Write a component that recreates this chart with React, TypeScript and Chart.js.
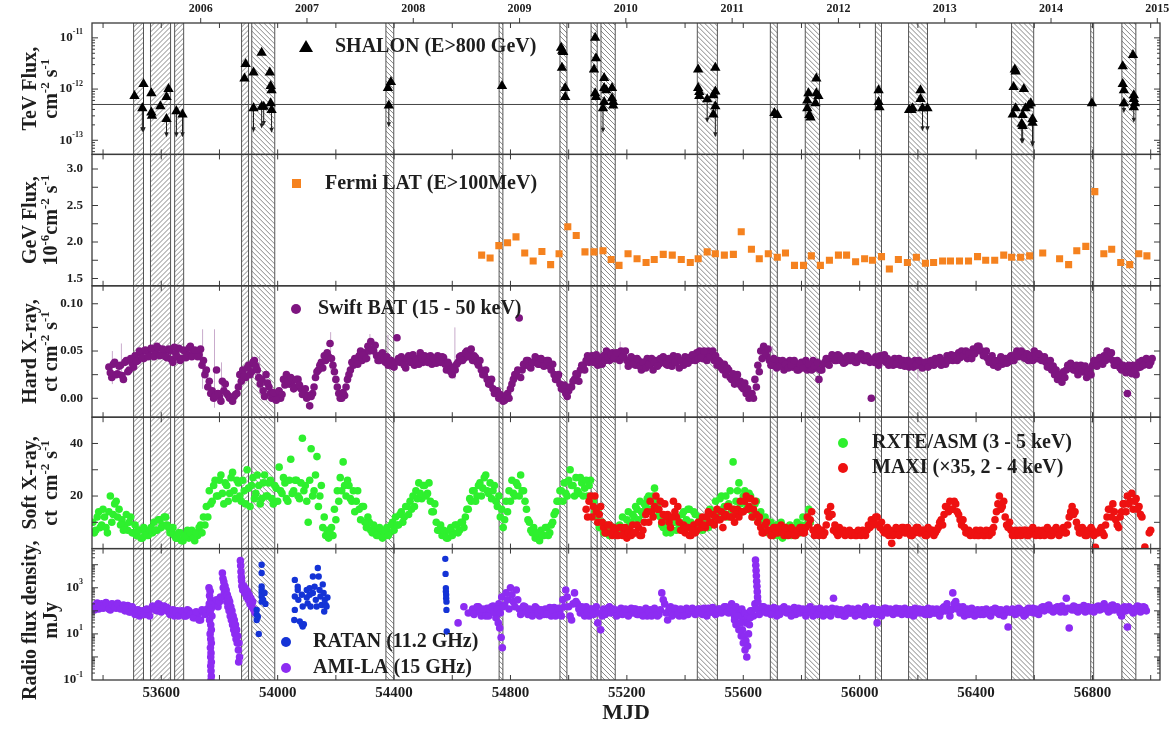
import React, { useEffect, useRef } from 'react';
import { Chart, registerables } from 'chart.js';

Chart.register(...registerables);

const FONT = '"Liberation Serif", "Times New Roman", serif';
const INK = '#1e1e1e';

// ---------------- axes ----------------
const X_MIN = 53362;
const X_MAX = 57032;
const mjdToYear = (m: number) => 2000 + (m - 51544) / 365.25;

const mjdTicks = [53600, 54000, 54400, 54800, 55200, 55600, 56000, 56400, 56800];
const yearTicks = [2006, 2007, 2008, 2009, 2010, 2011, 2012, 2013, 2014, 2015];
const tevTicks = [1e-13, 1e-12, 1e-11];
const gevTicks = [1.5, 2.0, 2.5, 3.0];
const hardTicks = [0, 0.05, 0.1];
const softTicks = [20, 40];
const radioTicks = [0.1, 10, 1000];
const TEV_THRESHOLD = 5e-13;

// ---------------- SHALON observation windows (hatched) ----------------
const bandStart = [53505, 53563, 53646, 53876, 53911, 54372, 54761, 54970, 55077, 55111, 55442, 55693, 55813, 56054, 56168, 56522, 56794, 56901];
const bandEnd = [53539, 53632, 53677, 53900, 53990, 54399, 54774, 54994, 55098, 55160, 55511, 55717, 55862, 56075, 56233, 56598, 56804, 56949];
const bandSlash = [1, 1, 1, 1, 0, 0, 0, 0, 0, 0, 0, 0, 0, 0, 0, 0, 0, 0];

// ---------------- SHALON TeV (units of 1e-13 cm^-2 s^-1) ----------------
const shalonMjd = [53508, 53539, 53535, 53566, 53566, 53568, 53597, 53618, 53625, 53618, 53652, 53673,
  53890, 53886, 53917, 53945, 53973, 53976, 53979, 53917, 53945, 53952, 53976, 53979,
  54379, 54389, 54382, 54771,
  54974, 54978, 54981, 54977, 54988, 54988,
  55091, 55094, 55087, 55091, 55094, 55122, 55122, 55129, 55122, 55118, 55149, 55149, 55153, 55153,
  55445, 55445, 55449, 55449, 55476, 55504, 55504, 55497, 55504, 55497, 55707, 55717,
  55824, 55820, 55820, 55827, 55831, 55851, 55851, 55858, 55848,
  56065, 56065, 56068, 56170, 56178, 56182, 56209, 56209, 56216, 56233,
  56533, 56536, 56529, 56564, 56536, 56526, 56560, 56557, 56560, 56570, 56581, 56588, 56594, 56594,
  56798, 56904, 56904, 56908, 56908, 56939, 56942, 56942, 56946, 56942];
const shalonFlux = [7.3, 12.5, 4.2, 8.3, 3.5, 3.0, 4.6, 7.0, 10, 2.6, 3.7, 3.2,
  31, 16, 21, 51, 21, 11.5, 9.5, 4.2, 4.5, 4.5, 5.3, 3.9,
  10.5, 13.7, 4.8, 11.5,
  64, 56, 53, 26, 10.5, 7.0,
  100, 40, 24, 8.3, 7.0, 16.5, 10.5, 9.5, 5.6, 4.2, 10.5, 6.6, 5.6, 4.8,
  24, 10.5, 8.8, 7.3, 6.3, 26, 9.0, 7.6, 4.6, 3.2, 3.4, 3.1,
  8.3, 6.0, 4.2, 3.1, 2.8, 16, 8.3, 7.3, 5.3,
  9.5, 5.6, 4.4, 3.9, 3.9, 4.2, 9.5, 6.4, 4.2, 4.2,
  24, 22, 11, 10, 4.2, 3.2, 3.1, 2.1, 1.9, 4.2, 4.8, 5.3, 2.6, 2.2,
  5.3, 28, 12.5, 9.5, 5.3, 46, 7.6, 6.4, 5.3, 4.4];
const shalonLimit = [0, 1.44, 1.44, 0, 0, 0, 0, 0, 0, 1.15, 1.15, 1.15,
  0, 0, 0, 0, 0, 0, 0, 1.44, 1.7, 1.9, 0, 1.4,
  0, 0, 1.8, 0,
  0, 0, 0, 0, 0, 0,
  0, 0, 0, 0, 0, 0, 0, 0, 0, 1.4, 0, 0, 0, 0,
  0, 0, 0, 0, 2.2, 0, 0, 0, 1.15, 0, 0, 0,
  0, 0, 0, 0, 0, 0, 0, 0, 0,
  0, 0, 0, 0, 0, 0, 0, 0, 1.5, 1.5,
  0, 0, 0, 0, 0, 0, 0, 0.87, 0.87, 0, 0, 0, 0.76, 0.76,
  0, 0, 0, 0, 3.4, 0, 0, 0, 0, 2.2];

// ---------------- Fermi LAT (1e-6 cm^-2 s^-1) ----------------
const fermiMjd = [54701, 54730, 54760, 54790, 54819, 54849, 54878, 54908, 54938, 54967, 54997, 55026,
  55056, 55087, 55118, 55146, 55173, 55204, 55235, 55266, 55294, 55325, 55356, 55387, 55418, 55445, 55476, 55504, 55535, 55566,
  55593, 55628, 55655, 55686, 55717, 55745, 55776, 55807, 55834, 55865, 55896, 55927, 55955, 55986, 56017, 56044, 56075, 56102,
  56133, 56164, 56195, 56226, 56254, 56285, 56312, 56343, 56374, 56405, 56433, 56464, 56495, 56522, 56553, 56584, 56629, 56687,
  56718, 56746, 56777, 56808, 56839, 56866, 56897, 56928, 56959, 56987];
const fermiFlux = [1.82, 1.78, 1.95, 1.99, 2.07, 1.85, 1.74, 1.87, 1.69, 1.84, 2.21, 2.09,
  1.865, 1.865, 1.88, 1.76, 1.68, 1.84, 1.77, 1.72, 1.76, 1.83, 1.82, 1.76, 1.72, 1.77, 1.865, 1.84, 1.82, 1.83,
  2.14, 1.90, 1.77, 1.84, 1.79, 1.85, 1.68, 1.68, 1.81, 1.68, 1.75, 1.82, 1.82, 1.73, 1.77, 1.75, 1.80, 1.63,
  1.76, 1.72, 1.79, 1.71, 1.72, 1.74, 1.74, 1.74, 1.74, 1.80, 1.75, 1.75, 1.82, 1.79, 1.79, 1.81, 1.85, 1.77,
  1.69, 1.88, 1.94, 2.69, 1.84, 1.90, 1.72, 1.69, 1.84, 1.81];

// ---------------- Swift BAT (two interleaved 10-day samplings, 1e-3 ct cm^-2 s^-1) ----------------
const BAT_START = 53420;
const BAT_STEP = 10;
const batMilli = [
  33, 22, 38, 26, 35, 20, 40, 30, 37, 45, 40, 47, 42, 50, 45, 52, 47, 53, 46, 50,
  43, 50, 38, 47, 53, 42, 50, 46, 55, 48, 50, 46, 35, 25, 12, 5, 0, 30, 2, 18,
  15, 3, 0, 2, 5, 25, 30, 22, 35, 28, 40, 30, 15, 8, 25, 12, 0, 5, 3, 0,
  20, 25, 15, 18, 12, 20, 10, 5, 0, -8, 5, 22, 30, 38, 45, 48, 58, 35, 20, 5,
  0, 3, 20, 30, 35, 42, 45, 40, 48, 55, 60, 50, 45, 40, 48, 38, 35, 40, 33, 64,
  38, 40, 32, 45, 40, 35, 42, 48, 38, 44, 40, 36, 42, 45, 38, 43, 30, 35, 25, 30,
  38, 45, 42, 50, 46, 40, 43, 35, 30, 25, 20, 15, 10, 5, 0, 2, -2, 5, 10, 20,
  25, 85, 30, 35, 40, 32, 38, 42, 36, 40, 35, 40, 30, 25, 20, 15, 10, 5, 8, 12,
  20, 25, 30, 35, 40, 38, 45, 40, 35, 42, 45, 50, 40, 48, 42, 46, 50, 44, 40, 38,
  42, 35, 40, 30, 38, 42, 35, 30, 40, 36, 38, 42, 35, 40, 45, 38, 32, 40, 44, 37,
  40, 45, 48, 50, 42, 46, 50, 44, 40, 35, 38, 30, 25, 30, 20, 15, 25, 18, 10, 5,
  0, 5, 20, 35, 50, 55, 45, 40, 35, 38, 40, 35, 30, 38, 40, 33, 36, 30, 38, 35,
  30, 35, 40, 32, 20, 30, 38, 40, 42, 45, 40, 45, 42, 38, 45, 40, 43, 38, 42, 45,
  40, 43, 0, 38, 40, 45, 42, 38, 35, 40, 42, 38, 35, 40, 36, 33, 38, 40, 35, 37,
  33, 38, 35, 40, 42, 38, 35, 40, 45, 42, 40, 45, 48, 50, 45, 42, 48, 52, 50, 55,
  50, 45, 42, 40, 35, 38, 40, 36, 42, 38, 45, 40, 50, 45, 48, 42, 40, 45, 50, 42,
  45, 40, 38, 35, 30, 25, 20, 22, 28, 30, 32, 35, 30, 25, 35, 28, 22, 30, 35, 40,
  38, 42, 45, 50, 42, 40, 35, 38, 30, 32, 5, 30, 35, 25, 38, 40, 36, 40, 38];
const batMilliB = [
  27, 36, 25, 34, 24, 38, 28, 42, 33, 39, 50, 43, 51, 44, 53, 44, 55, 45, 52, 44,
  52, 41, 54, 44, 40, 51, 43, 53, 44, 51, 44, 52, 40, 30, 18, 8, 3, 5, -3, 8,
  5, 0, -3, 4, 12, 18, 24, 32, 25, 38, 34, 22, 20, 2, 16, 5, 6, -2, 8, 4,
  14, 18, 22, 10, 20, 14, 4, 10, 3, 2, 12, 28, 35, 32, 40, 44, 42, 28, 12, 0,
  6, 12, 25, 38, 42, 36, 50, 46, 42, 50, 52, 56, 40, 46, 42, 44, 40, 34, 38, 42,
  44, 35, 42, 38, 46, 40, 36, 42, 45, 38, 45, 42, 37, 40, 44, 36, 38, 28, 32, 36,
  44, 40, 48, 44, 52, 45, 38, 40, 25, 30, 15, 20, 5, 8, 4, -3, 3, 0, 15, 25,
  30, 22, 36, 40, 34, 38, 44, 36, 42, 34, 40, 34, 36, 20, 25, 10, 14, 2, 12, 18,
  26, 18, 35, 30, 45, 42, 38, 46, 40, 36, 40, 44, 46, 42, 48, 40, 44, 50, 34, 44,
  36, 42, 34, 38, 32, 36, 42, 38, 34, 42, 44, 36, 42, 34, 38, 44, 40, 35, 38, 43,
  46, 40, 42, 44, 50, 40, 44, 50, 45, 40, 32, 36, 32, 22, 26, 22, 15, 12, 16, 10,
  4, 0, 12, 28, 42, 48, 52, 35, 42, 32, 34, 40, 36, 32, 35, 40, 30, 36, 32, 40,
  36, 30, 34, 38, 30, 36, 42, 35, 46, 40, 46, 40, 37, 44, 40, 45, 38, 44, 47, 40,
  45, 38, 40, 44, 35, 40, 46, 42, 40, 35, 36, 42, 40, 34, 40, 38, 33, 36, 40, 32,
  38, 33, 40, 35, 37, 43, 40, 36, 40, 46, 45, 40, 43, 45, 50, 47, 42, 47, 55, 50,
  45, 50, 38, 45, 40, 33, 44, 40, 37, 43, 40, 46, 44, 50, 43, 47, 45, 40, 45, 47,
  40, 44, 33, 40, 34, 30, 25, 17, 22, 35, 37, 30, 35, 30, 28, 34, 28, 25, 40, 34,
  43, 36, 40, 45, 48, 35, 40, 32, 35, 27, 35, 26, 30, 32, 33, 35, 42, 35, 42];
// a few visible error bars: mjd, low, high
const batErrMjd = [53432, 53463, 53742, 53783, 53807, 53938, 54182, 54317, 54379, 54609, 55177, 55700, 56200];
const batErrLo = [0.015, 0.02, 0.01, -0.01, 0.0, 0.02, 0.03, 0.04, 0.04, 0.02, 0.03, 0.02, 0.02];
const batErrHi = [0.05, 0.058, 0.073, 0.073, 0.038, 0.045, 0.07, 0.068, 0.067, 0.075, 0.06, 0.055, 0.05];

// ---------------- RXTE/ASM (two interleaved 10-day samplings) ----------------
const ASM_START = 53365;
const ASM_STEP = 10;
const asmRate = [
  10, 7, 14, 9, 12, 6, 20, 13, 18, 15, 11, 9, 7, 12, 6, 5, 7, 4, 6, 5,
  8, 10, 7, 11, 9, 12, 8, 6, 5, 4, 6, 3, 5, 4, 7, 3, 5, 9, 12, 16,
  22, 18, 26, 20, 28, 17, 24, 21, 29, 19, 25, 18, 22, 30, 16, 27, 21, 24, 19, 28,
  20, 26, 17, 23, 31, 21, 25, 18, 34, 22, 26, 19, 42, 24, 10, 38, 22, 35, 20, 8,
  5, 4, 8, 15, 22, 27, 33, 20, 24, 18, 14, 22, 11, 16, 8, 10, 6, 7, 5, 6,
  5, 8, 6, 10, 12, 9, 14, 12, 16, 18, 20, 22, 25, 19, 24, 21, 18, 14, 10, 7,
  5, 6, 4, 8, 6, 9, 7, 10, 12, 15, 18, 22, 20, 25, 23, 28, 21, 19, 24, 16,
  12, 8, 18, 22, 26, 20, 24, 28, 22, 15, 10, 6, 4, 5, 7, 5, 8, 6, 10, 14,
  18, 22, 25, 20, 30, 24, 27, 21, 25, 23, 20, 26, 18, 12, 8, 10, 6, 7, 5, 8,
  6, 9, 12, 7, 14, 10, 12, 15, 18, 13, 16, 20, 15, 23, 17, 12, 8, 6, 9, 7,
  10, 12, 8, 14, 11, 15, 9, 13, 7, 10, 8, 12, 15, 10, 18, 14, 20, 16, 12, 22,
  33, 18, 25, 14, 22, 16, 20, 12, 18, 10, 8, 12, 6, 10, 5, 9, 7, 4, 8, 6,
  5, 8, 10, 6, 12, 9, 15];
const asmRateB = [
  6, 12, 8, 15, 8, 14, 10, 17, 12, 9, 7, 13, 10, 6, 9, 7, 4, 8, 5, 7,
  6, 7, 11, 8, 12, 9, 6, 8, 4, 6, 3, 5, 7, 6, 4, 6, 8, 6, 9, 12,
  17, 24, 20, 26, 21, 25, 18, 27, 22, 26, 20, 26, 17, 23, 24, 19, 28, 17, 25, 20,
  25, 19, 24, 18, 22, 27, 19, 26, 21, 26, 20, 25, 22, 18, 26, 20, 28, 16, 24, 12,
  7, 6, 5, 11, 18, 22, 24, 26, 19, 22, 18, 15, 16, 10, 12, 7, 9, 5, 8, 4,
  7, 5, 9, 7, 9, 13, 10, 16, 13, 15, 16, 19, 21, 24, 20, 25, 14, 17, 7, 9,
  7, 4, 7, 5, 9, 6, 10, 8, 15, 19, 22, 18, 24, 20, 27, 22, 25, 22, 18, 20,
  15, 11, 14, 18, 21, 25, 20, 22, 18, 11, 7, 8, 6, 3, 5, 8, 5, 9, 13, 18,
  22, 18, 21, 26, 24, 20, 22, 27, 20, 26, 24, 18, 14, 15, 10, 6, 8, 5, 7, 6,
  8, 6, 8, 11, 9, 13, 16, 11, 14, 17, 19, 15, 20, 18, 13, 9, 10, 8, 6, 10,
  7, 9, 13, 10, 15, 10, 14, 8, 12, 7, 11, 8, 10, 14, 12, 19, 15, 20, 17, 14,
  15, 22, 17, 20, 15, 21, 14, 17, 12, 14, 11, 7, 10, 6, 8, 5, 10, 7, 5, 9,
  7, 5, 7, 9, 8, 12, 10];

// ---------------- MAXI x35 (two interleaved 10-day samplings) ----------------
const MAXI_START = 55060;
const MAXI_STEP = 10;
const maxiRate = [
  15, 18, 12, 20, 10, 16, 8, 6, 9, 5, 7, 5, 8, 6, 4, 7, 9, 6, 8, 5,
  10, 14, 18, 12, 20, 15, 10, 17, 13, 8, 18, 12, 10, 7, 6, 8, 5, 9, 7, 10,
  12, 8, 14, 10, 9, 15, 11, 8, 13, 16, 12, 10, 15, 18, 14, 20, 16, 12, 18, 10,
  8, 6, 10, 7, 5, 8, 6, 9, 5, 7, 6, 7, 5, 6, 8, 6, 12, 11, 7, 6,
  5, 7, 6, 14, 16, 7, 6, 8, 6, 5, 6, 5, 6, 5, 6, 7, 5, 9, 11, 10,
  12, 8, 7, 6, 5, 2, 6, 7, 6, 8, 6, 7, 5, 6, 8, 6, 7, 5, 6, 7,
  6, 8, 11, 13, 16, 18, 15, 17, 13, 9, 8, 6, 5, 6, 7, 5, 6, 5, 6, 7,
  8, 14, 20, 16, 12, 8, 7, 6, 5, 7, 6, 7, 5, 6, 7, 6, 5, 7, 6, 7,
  5, 6, 7, 6, 8, 6, 12, 16, 14, 8, 6, 7, 5, 6, 7, 0.5, 6, 8, 5, 12,
  15, 17, 11, 8, 14, 17, 20, 18, 15, 19, 16, 12, 0.6, null, 7];
const maxiRateB = [
  12, 20, 16, 14, 13, 10, 6, 9, 6, 8, 5, 8, 5, 8, 6, 5, 6, 9, 5, 7,
  13, 10, 14, 16, 15, 18, 13, 12, 10, 12, 14, 16, 7, 9, 8, 5, 7, 6, 10, 8,
  9, 12, 10, 13, 12, 11, 14, 12, 16, 12, 15, 13, 12, 14, 18, 15, 19, 15, 13, 12,
  6, 9, 7, 5, 8, 6, 8, 6, 8, 5, 8, 5, 7, 8, 6, 8, 9, 14, 5, 8,
  7, 5, 9, 12, 13, 9, 5, 6, 7, 6, 7, 6, 5, 7, 5, 6, 7, 8, 9, 12,
  9, 10, 6, 8, 7, 5, 8, 5, 8, 6, 8, 5, 7, 8, 6, 7, 5, 8, 7, 5,
  7, 10, 9, 16, 14, 15, 18, 14, 11, 11, 6, 7, 6, 5, 5, 7, 5, 7, 5, 6,
  11, 17, 15, 18, 9, 10, 5, 7, 6, 5, 7, 5, 7, 8, 5, 7, 6, 5, 8, 5,
  7, 8, 5, 7, 6, 9, 14, 13, 10, 6, 8, 5, 7, 8, 5, 6, 7, 6, 9, 15,
  12, 14, 9, 12, 17, 14, 17, 21, 18, 15, 13, null, null, 6, null];

// ---------------- AMI-LA 15 GHz (mJy) ----------------
const AMI1_START = 53365;
const AMI_STEP = 10;
const ami1Flux = [150, 180, 120, 200, 140, 170, 110, 190, 130, 160, 140, 100, 170, 90, 120, 80, 60, 100, 70, 90,
  120, 150, 100, 180, 130, 110, 90, 80, 60, 100, 70, 90, 60, 100, 80, 50, 70, 40, 90];
const ami1FluxB = [110, 220, 160, 130, 230, 120, 200, 140, 210, 120, 180, 130, 90, 150, 70, 110, 90, 70, 120, 60,
  160, 110, 200, 90, 160, 140, 70, 110, 90, 60, 100, 60, 110, 70, 50, 90, 40, 110, 70];
const amiFlareMjd = [53750, 53755, 53758,
  53764, 53768, 53766, 53770, 53765, 53772, 53768, 53774, 53766, 53770, 53772, 53768, 53770, 53772, 53769, 53771, 53770, 53772, 53770, 53771, 53772, 53771,
  53785, 53790, 53795, 53800, 53803,
  53810, 53812, 53813, 53815, 53817, 53819, 53821, 53823, 53825, 53827, 53829, 53831, 53833, 53835, 53837, 53839, 53841, 53843, 53845, 53847, 53849, 53851, 53853, 53855, 53857, 53859, 53861, 53863, 53865, 53867, 53869, 53866,
  53872, 53873, 53874, 53875, 53876, 53877,
  53880, 53884, 53887, 53890, 53893, 53896, 53899, 53902, 53905, 53908, 53911, 53914, 53917, 53920, 53923];
const amiFlareFlux = [100, 80, 120,
  1000, 700, 450, 300, 200, 130, 90, 60, 40, 25, 15, 10, 6, 4, 2.5, 1.5, 1, 0.6, 0.4, 0.25, 0.15, 0.1,
  200, 300, 150, 250, 400,
  4400, 2500, 1000, 1800, 600, 1200, 400, 800, 250, 500, 150, 350, 100, 250, 60, 150, 40, 100, 25, 60, 15, 40, 10, 25, 6, 15, 4, 8, 2, 4, 1, 0.6,
  15000, 9000, 5000, 3000, 2000, 1200,
  800, 1200, 600, 900, 400, 700, 300, 500, 200, 350, 150, 250, 120, 100, 80];
const AMI2_START = 54620;
const ami2Flux = [30, null, 150, null, null, 120, 90, 150, 60, 100, 130, 80, 160, 50, 200, 400, 180, 300, 1000, 250,
  800, 120, 90, 150, 70, 110, 80, 130, 60, 100, 120, 90, 60, 140, 80, 100, 300, 800, 150, 40,
  600, 200, 80, 100, 150, 60, 120, 90, 30, 15, 120, 80, 150, 90, 100, 70, 130, 80, 110, 90,
  80, 120, 70, 100, 90, 60, 110, 80, 100, 70, 600, 200, 40, 150, 80, 120, 60, 100, 90, 70,
  90, 110, 80, 120, 70, 100, 130, 90, 110, 80, 120, 100, 150, 80, 200, 60, 100, 70, 50, 30,
  60, 100, 200, 120, 100, 150, 80, 120, 90, 100, 120, 90, 150, 80, 100, 110, 70, 130, 90, 100,
  90, 150, 60, 120, 80, 100, 70, 110, 60, 350, 120, 70, 100, 60, 130, 80, 110, 90, 70, 100,
  150, 110, 90, 120, 30, 100, 80, 130, 90, 110, 100, 80, 120, 90, 110, 70, 100, 130, 90, 80,
  110, 90, 70, 120, 80, 100, 90, 150, 200, 60, 600, 250, 150, 100, 60, 120, 80, 90, 70, 100,
  110, 80, 100, 60, 90, 120, 70, 100, 80, 20, 90, 110, 80, 120, 100, 70, 130, 90, 80, 110,
  100, 150, 120, 180, 130, 100, 150, 90, 120, 350, 18, 110, 150, 90, 130, 170, 120, 100, 140, 110,
  160, 120, 200, 140, 100, 180, 130, 110, 60, 150, 20, 120, 80, 100, 150, 120, 140];
const ami2FluxB = [null, null, null, 80, null, 70, 150, 90, 120, 60, 60, 150, 90, 120, 80, 150, 600, 120, 500, 150,
  300, 70, 160, 90, 120, 60, 150, 80, 110, 70, 70, 140, 110, 60, 130, 60, 150, 400, 60, 200,
  250, 120, 150, 60, 90, 120, 70, 150, 80, 60, 70, 130, 80, 120, 60, 110, 70, 120, 60, 130,
  120, 70, 110, 60, 130, 90, 60, 130, 60, 110, 300, 80, 120, 60, 130, 70, 120, 60, 130, 110,
  130, 70, 120, 80, 130, 60, 90, 140, 70, 120, 80, 150, 90, 130, 100, 150, 60, 120, 80, 60,
  100, 60, 120, 70, 150, 90, 130, 70, 140, 60, 70, 130, 90, 120, 60, 140, 100, 80, 120, 60,
  130, 80, 110, 70, 130, 60, 120, 70, 130, 100, 70, 110, 60, 120, 80, 120, 60, 130, 110, 60,
  90, 70, 130, 70, 110, 60, 130, 80, 120, 70, 130, 120, 70, 130, 70, 110, 60, 80, 120, 110,
  70, 130, 110, 80, 120, 60, 130, 100, 120, 110, 200, 120, 80, 150, 100, 70, 130, 60, 110, 70,
  70, 120, 70, 110, 130, 80, 110, 60, 120, 90, 120, 70, 130, 80, 60, 110, 90, 130, 120, 70,
  140, 100, 160, 110, 90, 140, 110, 160, 90, 130, 130, 160, 100, 140, 110, 90, 150, 130, 90, 150,
  110, 160, 120, 90, 170, 110, 150, 80, 130, 100, 150, 100, 130, 160, 90, 150, 100];
const amiExtraMjd = [54758, 54763, 54768, 54772,
  55570, 55575, 55580, 55585, 55590, 55593, 55597, 55600, 55603, 55606, 55609, 55612, 55615, 55618, 55621, 55624,
  55642, 55643, 55644, 55645, 55646, 55647, 55648, 55649, 55650];
const amiExtraFlux = [30, 18, 7, 2.5,
  40, 25, 60, 15, 30, 8, 15, 4, 8, 2, 5, 1, 3, 10, 25, 50,
  16000, 9500, 5600, 3300, 1900, 1150, 680, 400, 250];

// ---------------- RATAN 11.2 GHz (mJy) ----------------
const ratanMjd = [53928, 53928, 53928, 53932, 53935, 53945, 53945, 53945, 53945, 53945, 53945, 53945, 53950, 53955, 53958,
  54059, 54059, 54059, 54057, 54069, 54069, 54071, 54076, 54083, 54086, 54090, 54086, 54083, 54100, 54100, 54103,
  54110, 54110, 54113, 54121, 54121, 54127, 54131, 54134, 54138, 54141, 54144, 54147, 54151, 54155, 54158, 54160,
  54162, 54165, 54168, 54171,
  54576, 54577, 54578, 54578, 54579, 54579, 54580, 54580, 54581];
const ratanFlux = [110, 67, 40, 55, 10, 10000, 4400, 1140, 800, 590, 420, 250, 300, 600, 200,
  2200, 420, 110, 40, 1100, 800, 300, 35, 26, 21, 26, 155, 500, 800, 380, 210,
  950, 500, 155, 3100, 590, 1100, 300, 155, 7200, 3100, 800, 420, 180, 1400, 590, 94,
  300, 180, 155, 380,
  18000, 4000, 970, 690, 500, 355, 250, 110, 12.6];

// ---------------- helpers ----------------
type P = { x: number; y: number };
const pairs = (xs: number[], ys: number[], k = 1): P[] => xs.map((x, i) => ({ x, y: ys[i] * k }));
const series = (start: number, step: number, vals: (number | null)[], k = 1): P[] => {
  const out: P[] = [];
  vals.forEach((v, i) => { if (v !== null && v !== undefined) out.push({ x: start + i * step, y: v * k }); });
  return out;
};

type Part = [string, number];
function drawRich(ctx: CanvasRenderingContext2D, parts: Part[], x: number, y: number, size: number, align: string) {
  const big = `bold ${size}px ${FONT}`;
  const small = `bold ${Math.round(size * 0.64)}px ${FONT}`;
  let w = 0;
  for (const [t, s] of parts) { ctx.font = s ? small : big; w += ctx.measureText(t).width; }
  let cx = align === 'center' ? x - w / 2 : align === 'right' ? x - w : x;
  ctx.textAlign = 'left';
  for (const [t, s] of parts) {
    ctx.font = s ? small : big;
    ctx.fillText(t, cx, s ? y - size * 0.42 : y);
    cx += ctx.measureText(t).width;
  }
}

const PANELS = [
  { id: 'yTev', log: true, ticks: tevTicks, minor: [] as number[], fmt: 0, title: [[['TeV Flux,', 0]], [['cm', 0], ['-2', 1], [' s', 0], ['-1', 1]]] as Part[][], tOff: 0 },
  { id: 'yGev', log: false, ticks: gevTicks, minor: [1.75, 2.25, 2.75], fmt: 1, title: [[['GeV Flux,', 0]], [['10', 0], ['-6', 1], ['cm', 0], ['-2', 1], [' s', 0], ['-1', 1]]] as Part[][], tOff: 0 },
  { id: 'yHard', log: false, ticks: hardTicks, minor: [0.025, 0.075], fmt: 2, title: [[['Hard X-ray,', 0]], [['ct cm', 0], ['-2', 1], [' s', 0], ['-1', 1]]] as Part[][], tOff: 0 },
  { id: 'ySoft', log: false, ticks: softTicks, minor: [10, 30], fmt: 0, title: [[['Soft X-ray,', 0]], [['ct  cm', 0], ['-2', 1], [' s', 0], ['-1', 1]]] as Part[][], tOff: 0 },
  { id: 'yRadio', log: true, ticks: radioTicks, minor: [1, 100, 10000], fmt: 0, title: [[['Radio flux density,', 0]], [['mJy', 0]]] as Part[][], tOff: 6 },
];

const decoPlugin = {
  id: 'deco',
  beforeDatasetsDraw(chart: any) {
    const { ctx, chartArea: a, scales } = chart;
    const xs = scales.x;
    ctx.save();
    const h = a.bottom - a.top;
    for (let i = 0; i < bandStart.length; i++) {
      const x0 = xs.getPixelForValue(bandStart[i]);
      const x1 = xs.getPixelForValue(bandEnd[i]);
      ctx.save();
      ctx.beginPath();
      ctx.rect(x0, a.top, x1 - x0, h);
      ctx.clip();
      ctx.strokeStyle = '#6a6a6a';
      ctx.lineWidth = 0.8;
      ctx.beginPath();
      for (let k = x0 - h - 6; k <= x1 + 6; k += 5) {
        if (bandSlash[i]) { ctx.moveTo(k, a.bottom); ctx.lineTo(k + h, a.top); }
        else { ctx.moveTo(k, a.top); ctx.lineTo(k + h, a.bottom); }
      }
      ctx.stroke();
      ctx.restore();
      ctx.strokeStyle = '#555';
      ctx.lineWidth = 1;
      ctx.beginPath();
      ctx.moveTo(x0, a.top); ctx.lineTo(x0, a.bottom);
      ctx.moveTo(x1, a.top); ctx.lineTo(x1, a.bottom);
      ctx.stroke();
    }
    // TeV threshold line
    const yt = scales.yTev.getPixelForValue(TEV_THRESHOLD);
    ctx.strokeStyle = '#444';
    ctx.lineWidth = 1;
    ctx.beginPath();
    ctx.moveTo(a.left, yt); ctx.lineTo(a.right, yt);
    ctx.stroke();
    // BAT error bars
    ctx.strokeStyle = 'rgba(175,130,180,0.85)';
    ctx.lineWidth = 0.8;
    ctx.beginPath();
    batErrMjd.forEach((m, i) => {
      const x = xs.getPixelForValue(m);
      ctx.moveTo(x, scales.yHard.getPixelForValue(batErrLo[i]));
      ctx.lineTo(x, scales.yHard.getPixelForValue(batErrHi[i]));
    });
    ctx.stroke();
    // SHALON upper-limit arrows
    ctx.strokeStyle = '#222';
    ctx.fillStyle = '#222';
    ctx.lineWidth = 1;
    shalonMjd.forEach((m, i) => {
      const lim = shalonLimit[i];
      if (!lim) return;
      const x = xs.getPixelForValue(m);
      const y0 = scales.yTev.getPixelForValue(shalonFlux[i] * 1e-13);
      const y1 = scales.yTev.getPixelForValue(lim * 1e-13);
      ctx.beginPath(); ctx.moveTo(x, y0); ctx.lineTo(x, y1 - 3); ctx.stroke();
      ctx.beginPath(); ctx.moveTo(x - 2.2, y1 - 5); ctx.lineTo(x + 2.2, y1 - 5); ctx.lineTo(x, y1); ctx.closePath(); ctx.fill();
    });
    ctx.restore();
  },
  afterDatasetsDraw(chart: any) {
    const { ctx, chartArea: a, scales } = chart;
    const xs = scales.x;
    const xt = scales.xTop;
    ctx.save();
    // panel frames
    ctx.strokeStyle = '#3a3a3a';
    ctx.lineWidth = 1.3;
    for (const p of PANELS) {
      const s = scales[p.id];
      ctx.strokeRect(a.left, s.top, a.right - a.left, s.bottom - s.top);
    }
    // tick marks
    ctx.lineWidth = 1;
    ctx.beginPath();
    for (let m = 53400; m <= X_MAX; m += 200) {
      const x = xs.getPixelForValue(m);
      for (const p of PANELS) {
        const s = scales[p.id];
        ctx.moveTo(x, s.top); ctx.lineTo(x, s.top + 5);
        ctx.moveTo(x, s.bottom); ctx.lineTo(x, s.bottom - 5);
      }
    }
    for (const yv of yearTicks) {
      const x = xt.getPixelForValue(yv);
      ctx.moveTo(x, a.top); ctx.lineTo(x, a.top - 5);
    }
    for (const p of PANELS) {
      const s = scales[p.id];
      const marks: [number, number][] = [];
      p.ticks.forEach((v) => marks.push([v, 6]));
      p.minor.forEach((v) => marks.push([v, 6]));
      if (p.log) {
        for (let e = -15; e <= 5; e++) for (let k = 2; k <= 9; k++) marks.push([k * Math.pow(10, e), 3]);
      }
      for (const [v, len] of marks) {
        const y = s.getPixelForValue(v);
        if (!(y > s.top + 1 && y < s.bottom - 1)) continue;
        ctx.moveTo(a.left, y); ctx.lineTo(a.left + len, y);
        ctx.moveTo(a.right, y); ctx.lineTo(a.right - len, y);
      }
    }
    ctx.stroke();

    // tick labels
    ctx.fillStyle = INK;
    ctx.textBaseline = 'middle';
    ctx.textAlign = 'center';
    ctx.font = `bold 15px ${FONT}`;
    for (const m of mjdTicks) ctx.fillText(String(m), xs.getPixelForValue(m), a.bottom + 13);
    ctx.font = `bold 12px ${FONT}`;
    for (const yv of yearTicks) ctx.fillText(String(yv), xt.getPixelForValue(yv), a.top - 14);
    for (const p of PANELS) {
      const s = scales[p.id];
      for (const v of p.ticks) {
        const y = s.getPixelForValue(v);
        if (p.log) {
          const e = Math.round(Math.log10(v));
          drawRich(ctx, [['10', 0], [String(e), 1]], 83, y, 13, 'right');
        } else {
          ctx.textAlign = 'right';
          ctx.font = `bold 13px ${FONT}`;
          ctx.fillText(p.fmt ? v.toFixed(p.fmt) : String(v), 83, y);
        }
      }
    }
    // axis titles
    ctx.textBaseline = 'alphabetic';
    const baseX = [36, 57];
    for (const p of PANELS) {
      const s = scales[p.id];
      const cy = (s.top + s.bottom) / 2 + p.tOff;
      p.title.forEach((line, j) => {
        ctx.save();
        ctx.translate(baseX[j], cy);
        ctx.rotate(-Math.PI / 2);
        drawRich(ctx, line, 0, 0, 20, 'center');
        ctx.restore();
      });
    }
    ctx.textAlign = 'center';
    ctx.textBaseline = 'middle';
    ctx.font = `bold 22px ${FONT}`;
    ctx.fillText('MJD', (a.left + a.right) / 2, 713);

    // legends
    const legendText = (t: string, x: number, y: number) => {
      ctx.font = `bold 20px ${FONT}`;
      ctx.textAlign = 'left';
      ctx.textBaseline = 'middle';
      ctx.fillStyle = INK;
      ctx.fillText(t, x, y);
    };
    const dot = (x: number, y: number, c: string) => { ctx.fillStyle = c; ctx.beginPath(); ctx.arc(x, y, 5, 0, Math.PI * 2); ctx.fill(); };
    ctx.fillStyle = '#000';
    ctx.beginPath(); ctx.moveTo(306, 40); ctx.lineTo(313, 52); ctx.lineTo(299, 52); ctx.closePath(); ctx.fill();
    legendText('SHALON (E>800 GeV)', 335, 47);
    ctx.fillStyle = '#f5821f';
    ctx.fillRect(292, 179, 9, 9);
    legendText('Fermi LAT (E>100MeV)', 325, 184);
    dot(296, 309, '#7e1580');
    legendText('Swift BAT (15 - 50 keV)', 318, 309);
    dot(843, 443, '#2ef02e');
    legendText('RXTE/ASM (3 - 5 keV)', 872, 443);
    dot(843, 468, '#ee1111');
    legendText('MAXI (\u00d735, 2 - 4 keV)', 872, 468);
    dot(286, 642, '#1433d6');
    legendText('RATAN (11.2 GHz)', 313, 642);
    dot(286, 668, '#8d2cf2');
    legendText('AMI-LA (15 GHz)', 313, 668);
    ctx.restore();
  },
};

function yScale(type: string, min: number, max: number, weight: number, ticks: number[]) {
  return {
    type,
    position: 'left',
    stack: 'panels',
    stackWeight: 1,
    weight,
    min,
    max,
    grid: { display: false, drawTicks: false },
    border: { display: false },
    ticks: { display: false },
    afterBuildTicks: (s: any) => { s.ticks = ticks.map((v) => ({ value: v })); },
    afterFit: (s: any) => { s.width = 92; },
  };
}

export default function App() {
  const ref = useRef<HTMLCanvasElement>(null);
  useEffect(() => {
    if (!ref.current) return;
    const circle = (label: string, data: P[], axis: string, color: string, r = 3.8) => ({
      label, data, yAxisID: axis, xAxisID: 'x', pointStyle: 'circle', pointRadius: r,
      pointBackgroundColor: color, pointBorderWidth: 0, showLine: false,
    });
    const chart = new Chart(ref.current, {
      type: 'scatter',
      data: {
        datasets: [
          circle('RATAN', pairs(ratanMjd, ratanFlux), 'yRadio', '#1433d6', 3.2),
          circle('AMI-LA', [
            ...series(AMI1_START, AMI_STEP, ami1Flux), ...series(AMI1_START + 5, AMI_STEP, ami1FluxB),
            ...pairs(amiFlareMjd, amiFlareFlux),
            ...series(AMI2_START, AMI_STEP, ami2Flux), ...series(AMI2_START + 5, AMI_STEP, ami2FluxB),
            ...pairs(amiExtraMjd, amiExtraFlux)], 'yRadio', '#8d2cf2', 3.8),
          circle('MAXI', [...series(MAXI_START, MAXI_STEP, maxiRate), ...series(MAXI_START + 5, MAXI_STEP, maxiRateB)], 'ySoft', '#ee1111', 3.8),
          circle('RXTE/ASM', [...series(ASM_START, ASM_STEP, asmRate), ...series(ASM_START + 5, ASM_STEP, asmRateB)], 'ySoft', '#2ef02e', 3.8),
          circle('Swift BAT', [...series(BAT_START, BAT_STEP, batMilli, 0.001), ...series(BAT_START + 5, BAT_STEP, batMilliB, 0.001)], 'yHard', '#7e1580', 3.8),
          {
            label: 'Fermi', data: pairs(fermiMjd, fermiFlux), yAxisID: 'yGev', xAxisID: 'x', pointStyle: 'rect',
            pointRadius: 5, pointBackgroundColor: '#f5821f', pointBorderWidth: 0, showLine: false,
          },
          {
            label: 'SHALON', data: pairs(shalonMjd, shalonFlux, 1e-13), yAxisID: 'yTev', xAxisID: 'x', pointStyle: 'triangle',
            pointRadius: 6, pointBackgroundColor: '#000', pointBorderWidth: 0, showLine: false,
          },
        ] as any,
      },
      options: {
        animation: false,
        responsive: true,
        maintainAspectRatio: false,
        events: [],
        layout: { padding: { left: 0, right: 16, top: 0, bottom: 0 } },
        plugins: { legend: { display: false }, tooltip: { enabled: false } },
        scales: {
          x: {
            type: 'linear', position: 'bottom', min: X_MIN, max: X_MAX,
            grid: { display: false, drawTicks: false }, border: { display: false },
            ticks: { display: false, stepSize: 200, includeBounds: false },
            afterFit: (s: any) => { s.height = 51; },
          },
          xTop: {
            type: 'linear', position: 'top', min: mjdToYear(X_MIN), max: mjdToYear(X_MAX),
            grid: { display: false, drawTicks: false }, border: { display: false },
            ticks: { display: false, stepSize: 1, includeBounds: false },
            afterFit: (s: any) => { s.height = 23; },
          },
          yTev: yScale('logarithmic', 5.3e-14, 1.95e-11, 5, tevTicks),
          yGev: yScale('linear', 1.4, 3.2, 4, gevTicks),
          yHard: yScale('linear', -0.02, 0.119, 3, hardTicks),
          ySoft: yScale('linear', 0, 50, 2, softTicks),
          yRadio: yScale('logarithmic', 0.1, 5e4, 1, radioTicks),
        } as any,
      },
      plugins: [decoPlugin],
    } as any);
    return () => chart.destroy();
  }, []);
  return (
    <div style={{ position: 'fixed', left: 0, top: 0, width: 1176, height: 731, background: '#fff' }}>
      <canvas ref={ref} style={{ display: 'block' }} />
    </div>
  );
}
